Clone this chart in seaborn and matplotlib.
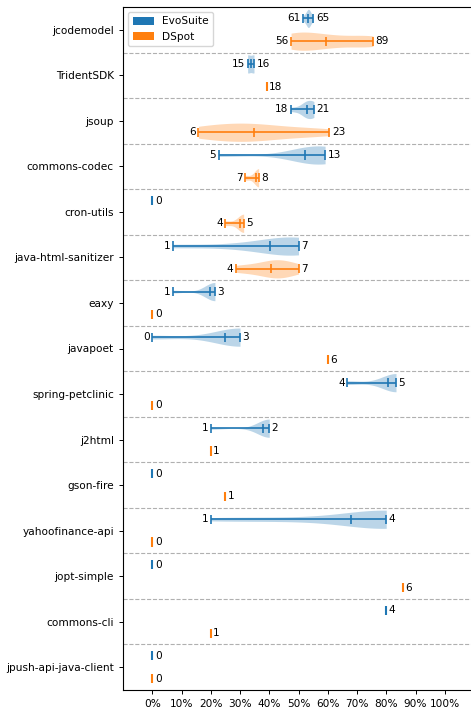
import numpy as np
import pandas as pd
import matplotlib
matplotlib.use("Agg")
import matplotlib.pyplot as plt
import seaborn as sns
from matplotlib.patches import Patch

# ---------------- data ----------------
projects = ["jcodemodel", "TridentSDK", "jsoup", "commons-codec", "cron-utils",
            "java-html-sanitizer", "eaxy", "javapoet", "spring-petclinic", "j2html",
            "gson-fire", "yahoofinance-api", "jopt-simple", "commons-cli",
            "jpush-api-java-client"]
totals = [118, 46, 38, 22, 16, 14, 14, 10, 6, 5, 4, 5, 7, 5, 10]
evosuite_runs = [
    [61, 62, 63, 63, 63, 63, 64, 65],
    [15, 15, 16, 16],
    [18, 19, 20, 20, 20, 20, 21, 21, 21, 21],
    [5, 11, 12, 12, 13, 13, 13, 13],
    [0],
    [1, 4, 6, 6, 7, 7, 7, 7],
    [1, 3, 3, 3, 3, 3, 3, 3],
    [0, 3, 3, 3, 3, 3],
    [4, 5, 5, 5, 5, 5],
    [1, 2, 2, 2, 2, 2, 2, 2, 2, 2],
    [0],
    [1, 2, 3, 4, 4, 4, 4, 4, 4, 4],
    [0],
    [4],
    [0],
]
dspot_runs = [
    [56, 56, 57, 58, 60, 62, 66, 70, 72, 76, 84, 88, 89, 89],
    [18],
    [6, 6, 8, 10, 11, 12, 13, 14, 16, 18, 21, 23],
    [7, 8, 8, 8, 8],
    [4, 5, 5, 5, 5],
    [4, 5, 6, 6, 6, 7],
    [0],
    [6],
    [0],
    [1],
    [1],
    [0],
    [6],
    [1],
    [0],
]
tools = ["EvoSuite", "DSpot"]
colors = {"EvoSuite": "#1f77b4", "DSpot": "#ff7f0e"}
xticks = list(range(0, 101, 10))

# ---------------- long-form table ----------------
rows, keys, key_tool = [], [], []
for p, n, ev, ds in zip(projects, totals, evosuite_runs, dspot_runs):
    for tool, runs in (("EvoSuite", ev), ("DSpot", ds)):
        key = f"{p} / {tool}"
        keys.append(key)
        key_tool.append(tool)
        for v in runs:
            rows.append({"key": key, "tool": tool, "count": v, "pct": 100.0 * v / n})
df = pd.DataFrame(rows)

plt.rcParams["font.family"] = ["DejaVu Sans"]
plt.rcParams["font.size"] = 7.6

fig = plt.figure(figsize=(4.71, 7.11), dpi=100)
ax = fig.add_axes([123 / 471, 1 - 690 / 711, (474 - 123) / 471, (690 - 7) / 711])

sns.violinplot(data=df, x="pct", y="key", hue="tool", order=keys, hue_order=tools,
               palette=colors, dodge=False, orient="h", inner=None, cut=0,
               density_norm="width", width=0.8, linewidth=0, saturation=1,
               alpha=0.3, legend=False, ax=ax)

lw = 1.2
for i, (key, tool) in enumerate(zip(keys, key_tool)):
    sub = df[df["key"] == key]
    c = colors[tool]
    pmin, pmax, pmean = sub["pct"].min(), sub["pct"].max(), sub["pct"].mean()
    cmin, cmax = sub["count"].min(), sub["count"].max()
    if pmax > pmin:
        ax.hlines(i, pmin, pmax, color=c, lw=lw, zorder=3)
        ax.vlines([pmin, pmean, pmax], i - 0.2, i + 0.2, color=c, lw=lw, zorder=3)
        ax.annotate(str(cmin), (pmin, i), xytext=(-1.8, 0), textcoords="offset points",
                    ha="right", va="center", fontsize=7.6)
    else:
        ax.vlines([pmin], i - 0.2, i + 0.2, color=c, lw=1.5, zorder=3)
    ax.annotate(str(cmax), (pmax, i), xytext=(1.8, 0), textcoords="offset points",
                ha="left", va="center", fontsize=7.6)

for y in np.arange(1.5, len(keys) - 1, 2):
    ax.axhline(y, color="#b0b0b0", ls="--", lw=0.8, zorder=1)

ax.set_xlim(-10, 110)
ax.set_ylim(len(keys) - 0.5, -0.5)
ax.set_xticks(xticks)
ax.set_xticklabels([f"{t}%" for t in xticks])
ax.set_yticks(np.arange(0.5, len(keys), 2))
ax.set_yticklabels(projects)
ax.set_xlabel("")
ax.set_ylabel("")
ax.tick_params(length=3.1, width=0.7)
for s in ax.spines.values():
    s.set_linewidth(0.8)

handles = [Patch(facecolor=colors[t], label=t) for t in tools]
ax.legend(handles=handles, loc="upper left", fontsize=7.6)

fig.savefig("out.png", dpi=100)
